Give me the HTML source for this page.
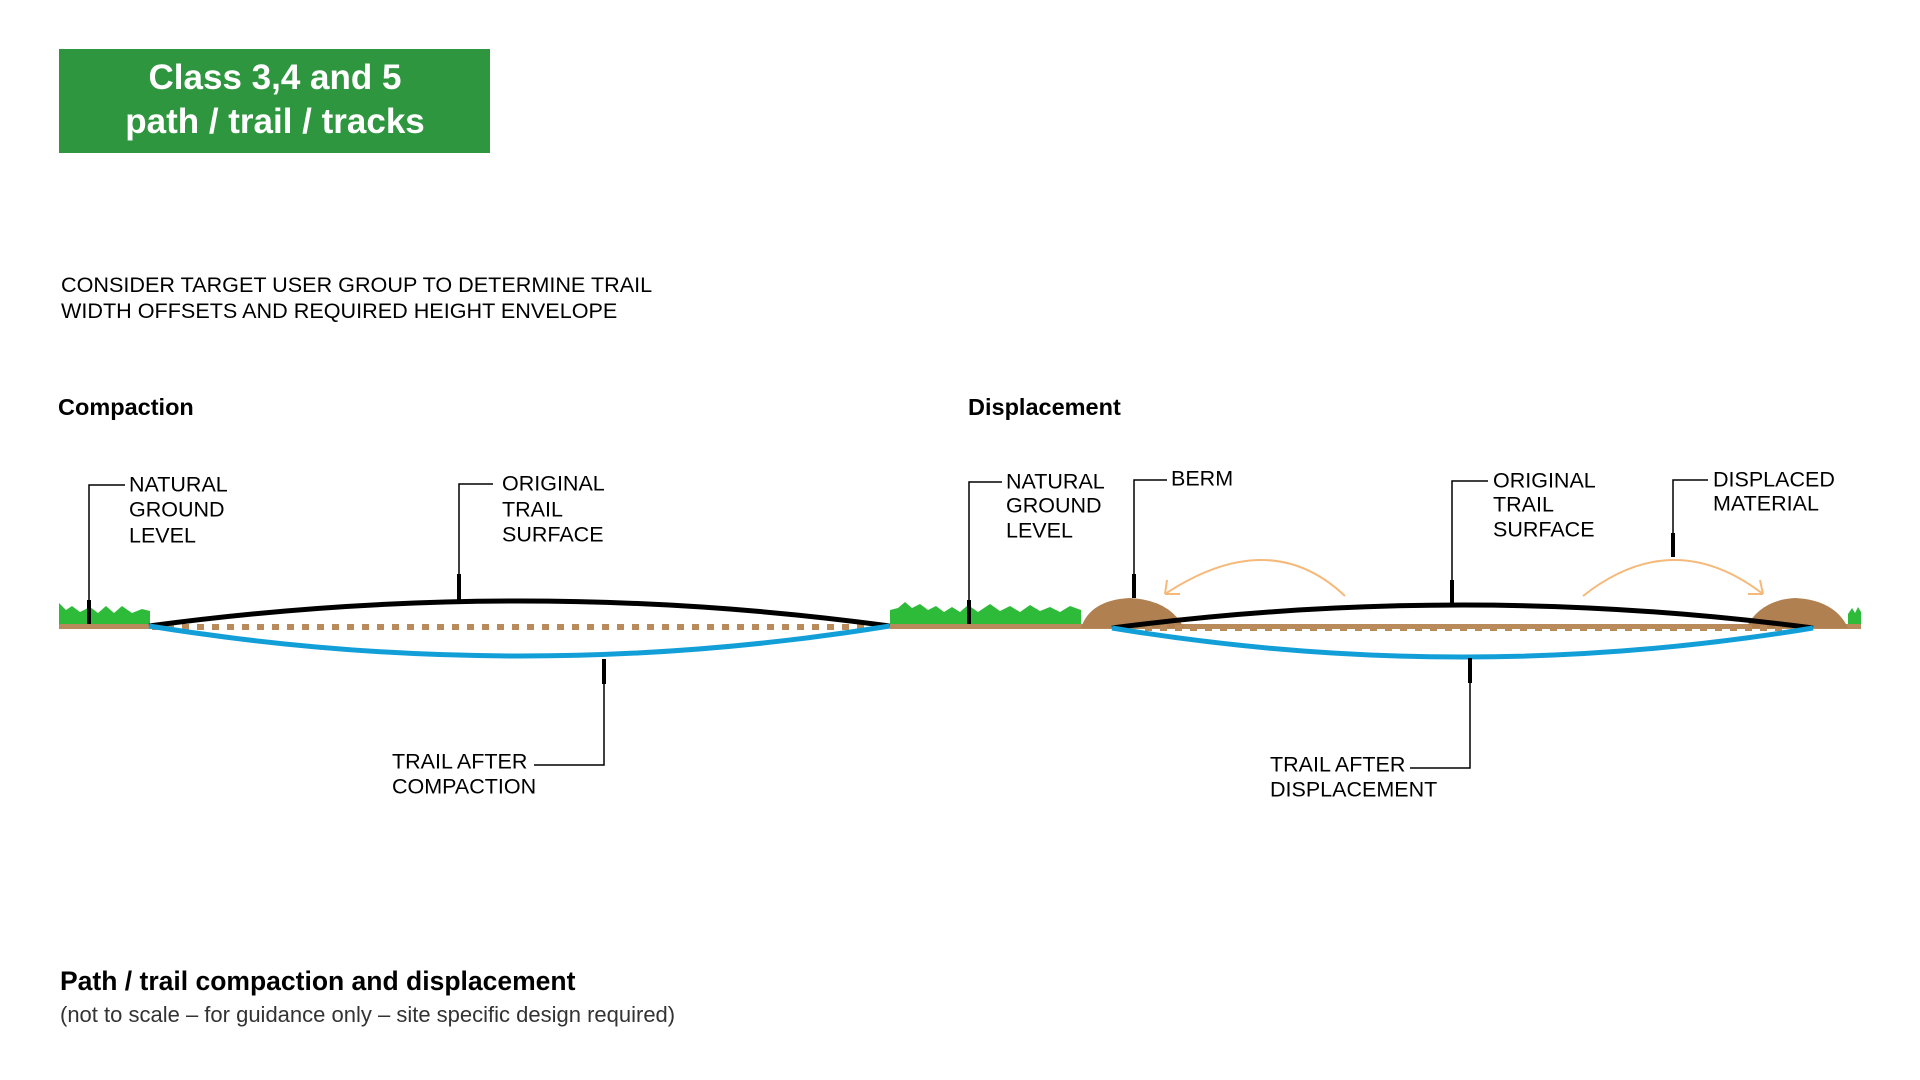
<!DOCTYPE html>
<html><head><meta charset="utf-8"><style>
html,body{margin:0;padding:0;background:#fff;}
body{width:1920px;height:1080px;overflow:hidden;position:relative;font-family:"Liberation Sans",Arial,sans-serif;}
</style></head><body>
<svg width="1920" height="1080" viewBox="0 0 1920 1080" xmlns="http://www.w3.org/2000/svg" style="position:absolute;left:0;top:0">
<rect x="59" y="49" width="431" height="104" fill="#2e963e"/>
<g font-family="Liberation Sans, Arial, sans-serif" font-weight="bold" font-size="35" fill="#fff" text-anchor="middle">
<text x="275" y="89">Class 3,4 and 5</text>
<text x="275" y="133">path / trail / tracks</text>
</g>
<g font-family="Liberation Sans, Arial, sans-serif" font-size="21.6" fill="#000">
<text x="61" y="292">CONSIDER TARGET USER GROUP TO DETERMINE TRAIL</text>
<text x="61" y="318">WIDTH OFFSETS AND REQUIRED HEIGHT ENVELOPE</text>
</g>
<g font-family="Liberation Sans, Arial, sans-serif" font-weight="bold" font-size="23.5" fill="#000">
<text x="58" y="415">Compaction</text>
<text x="968" y="415">Displacement</text>
</g>

<rect x="59" y="624" width="92" height="5" fill="#b98b5a"/>
<path d="M59 624 L59 603 L66 610 L72 606 L80 612 L90 607 L98 613 L106 606 L114 613 L122 606 L132 613 L142 609 L150 611 L150 624 Z" fill="#2fbb3a"/>
<line x1="152" y1="627" x2="865" y2="627" stroke="#b98b5a" stroke-width="6" stroke-dasharray="7 8"/>
<path d="M149 626 Q520 576 890 626" fill="none" stroke="#000" stroke-width="5"/>
<path d="M149 626 Q520 686 890 626" fill="none" stroke="#129fd8" stroke-width="5"/>

<rect x="890" y="624" width="971" height="5" fill="#b98b5a"/>
<path d="M890 624 L890 610 L898 608 L905 602 L912 608 L920 604 L928 610 L936 606 L944 612 L952 607 L960 612 L968 605 L978 612 L990 604 L1000 611 L1010 606 L1020 612 L1030 605 L1040 611 L1050 607 L1060 612 L1070 606 L1081 610 L1081 624 Z" fill="#2fbb3a"/>
<path d="M1081 628 Q1090 600 1130 598 Q1170 600 1184 628 Z" fill="#b08050"/>
<path d="M1746 628 Q1760 600 1795 598 Q1835 600 1848 628 Z" fill="#b08050"/>
<path d="M1848 624 L1848 614 L1852 608 L1855 613 L1858 607 L1861 612 L1861 624 Z" fill="#2fbb3a"/>
<line x1="1145" y1="628" x2="1800" y2="628" stroke="#b98b5a" stroke-width="6" stroke-dasharray="7 8"/>
<path d="M1112 628 Q1463 582 1813 628" fill="none" stroke="#000" stroke-width="5"/>
<path d="M1112 628 Q1463 686 1813 628" fill="none" stroke="#129fd8" stroke-width="5"/>

<g fill="none" stroke="#f5b97a" stroke-width="2">
<path d="M1345 596 Q1270 525 1165 594"/>
<path d="M1165 594 L1167 580 M1165 594 L1180 594"/>
<path d="M1583 596 Q1673 525 1763 594"/>
<path d="M1763 594 L1760 580 M1763 594 L1748 594"/>
</g>

<g stroke="#000" fill="none" stroke-width="1.5">
<path d="M125 485 H89 V624"/>
<path d="M493 484 H459 V600"/>
<path d="M534 765 H604 V659"/>
<path d="M1002 482 H969 V624"/>
<path d="M1167 480 H1134 V598"/>
<path d="M1488 481 H1452 V604"/>
<path d="M1708 480 H1673 V557"/>
<path d="M1410 768 H1470 V658"/>
</g>
<g stroke="#000" stroke-width="4">
<line x1="89" y1="600" x2="89" y2="624"/>
<line x1="459" y1="574" x2="459" y2="600"/>
<line x1="604" y1="659" x2="604" y2="684"/>
<line x1="969" y1="600" x2="969" y2="624"/>
<line x1="1134" y1="574" x2="1134" y2="598"/>
<line x1="1452" y1="580" x2="1452" y2="604"/>
<line x1="1673" y1="533" x2="1673" y2="557"/>
<line x1="1470" y1="658" x2="1470" y2="683"/>
</g>

<g font-family="Liberation Sans, Arial, sans-serif" font-size="21.5" fill="#000" dominant-baseline="middle">
<text x="129" y="486">NATURAL</text><text x="129" y="511">GROUND</text><text x="129" y="537">LEVEL</text>
<text x="502" y="485">ORIGINAL</text><text x="502" y="511">TRAIL</text><text x="502" y="536">SURFACE</text>
<text x="392" y="763">TRAIL AFTER</text><text x="392" y="788">COMPACTION</text>
<text x="1006" y="483">NATURAL</text><text x="1006" y="507">GROUND</text><text x="1006" y="532">LEVEL</text>
<text x="1171" y="480">BERM</text>
<text x="1493" y="482">ORIGINAL</text><text x="1493" y="506">TRAIL</text><text x="1493" y="531">SURFACE</text>
<text x="1713" y="481">DISPLACED</text><text x="1713" y="505">MATERIAL</text>
<text x="1270" y="766">TRAIL AFTER</text><text x="1270" y="791">DISPLACEMENT</text>
</g>

<text x="60" y="990" font-family="Liberation Sans, Arial, sans-serif" font-weight="bold" font-size="26.5" fill="#000">Path / trail compaction and displacement</text>
<text x="60" y="1022" font-family="Liberation Sans, Arial, sans-serif" font-size="22" fill="#333">(not to scale – for guidance only – site specific design required)</text>
</svg>
</body></html>
